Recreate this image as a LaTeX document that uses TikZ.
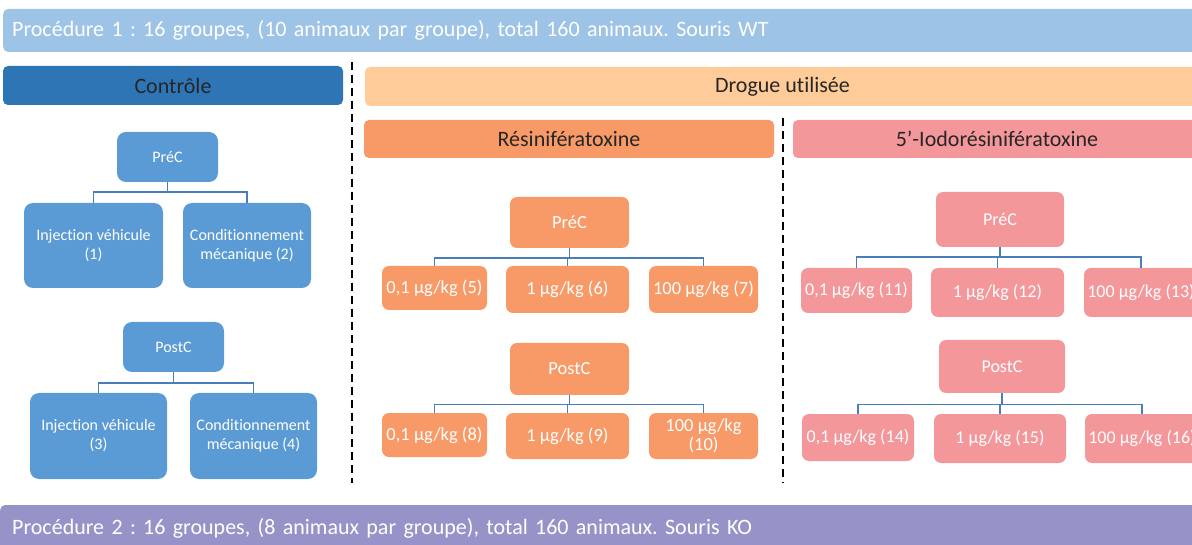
\documentclass[tikz,border=0pt]{standalone}
\usepackage{fontspec}
\setmainfont{Carlito}[Ligatures=NoCommon]
\usepackage{xcolor}
\usetikzlibrary{positioning}
\frenchspacing

\definecolor{wtblue}{HTML}{9DC3E6}
\definecolor{kopurple}{HTML}{9593C8}
\definecolor{ctrlblue}{HTML}{2E75B6}
\definecolor{ctrlbox}{HTML}{5B9BD5}
\definecolor{drugtan}{HTML}{FFCC99}
\definecolor{resorange}{HTML}{F79A67}
\definecolor{iodopink}{HTML}{F4979B}
\definecolor{connblue}{HTML}{4A7EBB}

\tikzset{
  bigfont/.style={font=\fontsize{22}{26}\selectfont},
  bar/.style={rounded corners=5pt, inner sep=0pt, bigfont, text=black!85},
  cbox/.style={fill=ctrlbox, rounded corners=9pt, text=white, align=center,
    inner sep=0pt, font=\fontsize{16}{19}\selectfont},
  rbox/.style={cbox, fill=resorange, rounded corners=7pt, font=\fontsize{18.5}{19}\selectfont},
  ibox/.style={cbox, fill=iodopink, rounded corners=7pt, font=\fontsize{18}{19}\selectfont},
  conn/.style={draw=connblue, line width=1.4pt},
  sepline/.style={line width=2pt, dash pattern=on 8pt off 5pt}
}

\begin{document}
\begin{tikzpicture}[x=1pt, y=-1pt]
    \useasboundingbox (0,0) rectangle (1192,545);
    \clip (0,0) rectangle (1192,545);

    % Procedure bars
    \node[bar, fill=wtblue, text=white, anchor=west, minimum height=43pt,
      text width=1188pt, align=left, inner xsep=9pt] (proc1) at (3,30.5)
      {Procédure 1 : 16 groupes, (10 animaux par groupe), total 160 animaux. Souris WT};
    \node[bar, fill=kopurple, text=white, anchor=west, minimum height=46pt,
      text width=1192pt, align=left, inner xsep=12pt] (proc2) at (0,528)
      {Procédure 2 : 16 groupes, (8 animaux par groupe), total 160 animaux. Souris KO};

    % Column headers
    \node[bar, fill=ctrlblue, minimum width=340pt, minimum height=39pt] (ctrl) at (173,85.5) {Contrôle};
    \node[bar, fill=drugtan, minimum width=835pt, minimum height=39pt] (drug) at (782.5,86.5) {Drogue utilisée};
    \node[bar, fill=resorange, minimum width=410pt, minimum height=38pt] (res) at (569,139) {Résinifératoxine};
    \node[bar, fill=iodopink, minimum width=408pt, minimum height=38pt] (iodo) at (997,139) {5’-Iodorésinifératoxine};

    % Separators
    \coordinate (s1top) at (352,62);  \coordinate (s1bot) at (352,483);
    \coordinate (s2top) at (783,118); \coordinate (s2bot) at (783,483);
    \draw[sepline] (s1top) -- (s1bot);
    \draw[sepline] (s2top) -- (s2bot);

    % Control tree
    \node[cbox, minimum width=101pt, minimum height=50pt] (cpre) at (167.5,157) {PréC};
    \node[cbox, minimum width=139pt, minimum height=85pt] (c1) at (93.5,245.5) {Injection véhicule\\(1)};
    \node[cbox, minimum width=128pt, minimum height=85pt] (c2) at (247,245.5) {Conditionnement\\mécanique (2)};
    \node[cbox, minimum width=101pt, minimum height=50pt] (cpost) at (173.5,347) {PostC};
    \node[cbox, minimum width=137pt, minimum height=86pt] (c3) at (98.5,436) {Injection véhicule\\(3)};
    \node[cbox, minimum width=127pt, minimum height=86pt] (c4) at (253.5,436) {Conditionnement\\mécanique (4)};

    \draw[conn] (cpre.south) -- ++(0,10) -| (c1.north);
    \draw[conn] (cpre.south) -- ++(0,10) -| (c2.north);
    \draw[conn] (cpost.south) -- ++(0,11) -| (c3.north);
    \draw[conn] (cpost.south) -- ++(0,11) -| (c4.north);

    % Resiniferatoxin tree
    \node[rbox, minimum width=119pt, minimum height=51pt] (rpre) at (569.5,222.5) {PréC};
    \node[rbox, minimum width=105pt, minimum height=44pt] (r5) at (434.5,288) {0,1 µg/kg (5)};
    \node[rbox, minimum width=123pt, minimum height=47pt] (r6) at (567.5,289.5) {1 µg/kg (6)};
    \node[rbox, minimum width=109pt, minimum height=47pt] (r7) at (703.5,289.5) {100 µg/kg (7)};
    \node[rbox, minimum width=119pt, minimum height=52pt] (rpost) at (569.5,369) {PostC};
    \node[rbox, minimum width=105pt, minimum height=44pt] (r8) at (434.5,435) {0,1 µg/kg (8)};
    \node[rbox, minimum width=123pt, minimum height=46pt] (r9) at (567.5,436) {1 µg/kg (9)};
    \node[rbox, minimum width=109pt, minimum height=46pt] (r10) at (703.5,436) {100 µg/kg\\(10)};

    \foreach \kid in {r5,r6,r7}
        \draw[conn] (rpre.south) -- ++(0,10) -| (\kid.north);
    \foreach \kid in {r8,r9,r10}
        \draw[conn] (rpost.south) -- ++(0,9) -| (\kid.north);

    % Iodoresiniferatoxin tree
    \node[ibox, minimum width=128pt, minimum height=55pt] (ipre) at (1000,219.5) {PréC};
    \node[ibox, minimum width=111pt, minimum height=45pt] (i11) at (856.5,290.5) {0,1 µg/kg (11)};
    \node[ibox, minimum width=133pt, minimum height=49pt] (i12) at (997.5,292.5) {1 µg/kg (12)};
    \node[ibox, minimum width=114pt, minimum height=49pt] (i13) at (1141,292.5) {100 µg/kg (13)};
    \node[ibox, minimum width=126pt, minimum height=53pt] (ipost) at (1002,366.5) {PostC};
    \node[ibox, minimum width=112pt, minimum height=47pt] (i14) at (858,437.5) {0,1 µg/kg (14)};
    \node[ibox, minimum width=132pt, minimum height=49pt] (i15) at (1000,438.5) {1 µg/kg (15)};
    \node[ibox, minimum width=114pt, minimum height=49pt] (i16) at (1142,438.5) {100 µg/kg (16)};

    \foreach \kid in {i11,i12,i13}
        \draw[conn] (ipre.south) -- ++(0,10) -| (\kid.north);
    \foreach \kid in {i14,i15,i16}
        \draw[conn] (ipost.south) -- ++(0,11) -| (\kid.north);
\end{tikzpicture}
\end{document}
